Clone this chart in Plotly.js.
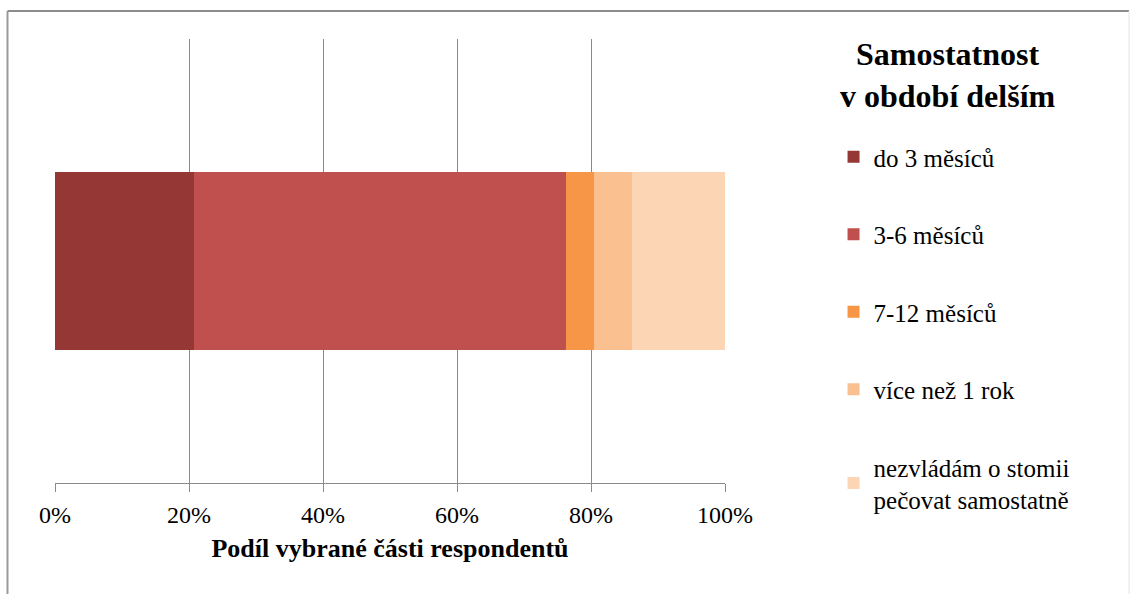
<!DOCTYPE html>
<html>
<head>
<meta charset="utf-8">
<script src="https://cdn.plot.ly/plotly-3.0.1.min.js"></script>
<style>
  html, body { margin: 0; padding: 0; background: #ffffff; }
  #chart { width: 1132px; height: 594px; }
</style>
</head>
<body>
<div id="chart"></div>
<script>
// Share of respondents by how long they managed stoma care on their own
const category = ['Samostatnost'];
const seriesNames = [
  'do 3 měsíců',
  '3-6 měsíců',
  '7-12 měsíců',
  'více než 1 rok',
  'nezvládám o stomii<br>pečovat samostatně'
];
const seriesValues = [20.8, 55.6, 4.2, 5.6, 13.9];
const seriesColors = ['#953735', '#C0504D', '#F79646', '#FAC090', '#FCD5B5'];
const tickValues = [0, 20, 40, 60, 80, 100];
const tickLabels = ['0%', '20%', '40%', '60%', '80%', '100%'];
const legendHeading = '<b>Samostatnost<br>v období delším</b>';

const serif = 'Liberation Serif';

const traces = seriesNames.map((name, i) => ({
  type: 'bar',
  orientation: 'h',
  name: name,
  y: category,
  x: [seriesValues[i]],
  marker: { color: seriesColors[i], line: { width: 0 } },
  legendgroup: 'g' + i,
  hoverinfo: 'name+x'
}));

const layout = {
  width: 1132,
  height: 594,
  margin: { l: 55, r: 407, t: 39, b: 111, autoexpand: false },
  paper_bgcolor: '#ffffff',
  plot_bgcolor: '#ffffff',
  barmode: 'stack',
  barnorm: 'percent',
  bargap: 0.6,
  font: { family: serif, color: '#000000', size: 24 },
  xaxis: {
    range: [0, 100],
    tickvals: tickValues,
    ticktext: tickLabels,
    showgrid: true,
    gridcolor: '#8a8a8a',
    gridwidth: 1,
    showline: true,
    linecolor: '#8a8a8a',
    linewidth: 1,
    ticks: 'outside',
    ticklen: 8,
    tickcolor: '#8a8a8a',
    ticklabelstandoff: 2,
    zeroline: false,
    tickfont: { family: serif, size: 24, color: '#000000' },
    title: {
      text: '<b>Podíl vybrané části respondentů</b>',
      font: { family: serif, size: 26, color: '#000000' },
      standoff: 12
    },
    automargin: false,
    fixedrange: true
  },
  yaxis: {
    showticklabels: false,
    showgrid: false,
    zeroline: false,
    showline: false,
    ticks: '',
    range: [-0.5, 0.5],
    automargin: false,
    fixedrange: true
  },
  legend: {
    x: 1.162,
    xanchor: 'left',
    yref: 'container',
    y: 1 - 134 / 594,
    yanchor: 'top',
    traceorder: 'grouped',
    tracegroupgap: 42,
    itemwidth: 30,
    maxheight: 594,
    font: { family: serif, size: 25, color: '#000000' },
    bgcolor: 'rgba(0,0,0,0)'
  },
  annotations: [
    { text: legendHeading, xref: 'paper', yref: 'paper', x: 1.333, y: 0.918,
      xanchor: 'center', yanchor: 'middle', align: 'center', showarrow: false,
      font: { family: serif, size: 32, color: '#000000' } }
  ],
  shapes: [
    { type: 'line', xref: 'paper', yref: 'paper', x0: -0.0709, x1: 1.603, y0: 1.063, y1: 1.063,
      line: { color: '#8c8c8c', width: 2 } },
    { type: 'line', xref: 'paper', yref: 'paper', x0: -0.0709, x1: -0.0709, y0: 1.063, y1: -0.3,
      line: { color: '#9a9a9a', width: 2 } },
    { type: 'line', xref: 'paper', yref: 'paper', x0: 1.603, x1: 1.603, y0: 1.063, y1: -0.3,
      line: { color: '#e4e4e4', width: 1 } }
  ],
  showlegend: true
};

Plotly.newPlot('chart', traces, layout, { displayModeBar: false, staticPlot: true });
</script>
</body>
</html>
